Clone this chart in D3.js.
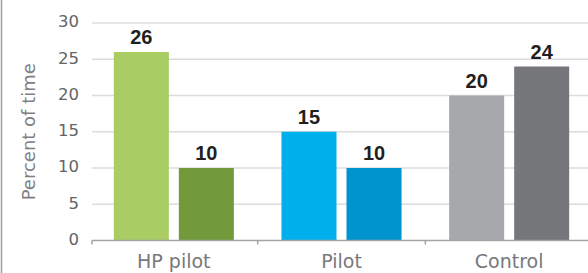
<meta charset="utf-8">
<html lang="en">
<head>
    <meta charset="utf-8">
    <style>
        body { margin: 0; background: #fff; }
        svg { display: block; }
    </style>
</head>
<body>
    <div id="my_dataviz"></div>
    <script src="https://d3js.org/d3.v7.min.js"></script>
    <script>
        // data
        var categories = ["HP pilot", "Pilot", "Control"];
        var firstBar = [26, 15, 20];
        var secondBar = [10, 10, 24];
        var yTicks = [0, 5, 10, 15, 20, 25, 30];
        var barColors = [["#a9cc63", "#739a3a"], ["#00b0ec", "#0094cf"], ["#a7a8ab", "#76777b"]];

        var width = 588, height = 273;

        var svg = d3.select("#my_dataviz")
            .append("svg")
            .attr("width", width)
            .attr("height", height);

        // scales
        var x0 = d3.scaleBand()
            .domain(categories)
            .range([90, 593])
            .paddingInner(0.284)
            .paddingOuter(0.142);

        var x1 = d3.scaleBand()
            .domain([0, 1])
            .range([0, x0.bandwidth()])
            .paddingInner(0.154);

        var y = d3.scaleLinear()
            .domain([0, 30])
            .range([240.5, 23]);

        // left border
        svg.append("line")
            .attr("x1", 1.5).attr("x2", 1.5)
            .attr("y1", 0).attr("y2", height)
            .attr("stroke", "#9c9c9c")
            .attr("stroke-width", 1.5);

        // gridlines
        svg.selectAll("myGrid")
            .data(yTicks.filter(function (d) { return d > 0 }))
            .enter()
            .append("line")
            .attr("x1", 92).attr("x2", width)
            .attr("y1", function (d) { return y(d) })
            .attr("y2", function (d) { return y(d) })
            .attr("stroke", "#dcdcdc")
            .attr("stroke-width", 1.5);

        // y tick labels
        svg.selectAll("myYLabels")
            .data(yTicks)
            .enter()
            .append("text")
            .attr("x", 79)
            .attr("y", function (d) { return y(d) - 1.5 })
            .attr("dy", "0.36em")
            .attr("text-anchor", "end")
            .style("font-family", "DejaVu Sans")
            .style("font-size", "16.5px")
            .style("fill", "#636466")
            .text(function (d) { return d });

        // axis title
        svg.append("text")
            .attr("transform", "translate(35," + y(15) + ") rotate(-90)")
            .attr("text-anchor", "middle")
            .style("font-family", "DejaVu Sans")
            .style("font-size", "18px")
            .style("fill", "#7f8083")
            .text("Percent of time");

        // bars
        var groups = svg.selectAll("myGroups")
            .data(categories)
            .enter()
            .append("g")
            .attr("transform", function (d) { return "translate(" + x0(d) + ",0)" });

        groups.selectAll("rect")
            .data(function (d, i) {
                return [{ k: 0, v: firstBar[i], c: barColors[i][0] }, { k: 1, v: secondBar[i], c: barColors[i][1] }];
            })
            .enter()
            .append("rect")
            .attr("x", function (d) { return x1(d.k) })
            .attr("width", x1.bandwidth())
            .attr("y", function (d) { return y(d.v) })
            .attr("height", function (d) { return y(0) - y(d.v) })
            .attr("fill", function (d) { return d.c });

        // value labels
        groups.selectAll("text")
            .data(function (d, i) {
                return [{ k: 0, v: firstBar[i] }, { k: 1, v: secondBar[i] }];
            })
            .enter()
            .append("text")
            .attr("x", function (d) { return x1(d.k) + x1.bandwidth() / 2 })
            .attr("y", function (d) { return y(d.v) - 8 })
            .attr("text-anchor", "middle")
            .style("font-family", "Liberation Sans, Arial, sans-serif")
            .style("font-weight", "bold")
            .style("font-size", "20px")
            .style("fill", "#231f20")
            .text(function (d) { return d.v });

        // x axis line and ticks
        svg.append("line")
            .attr("x1", 92).attr("x2", width)
            .attr("y1", y(0)).attr("y2", y(0))
            .attr("stroke", "#a3a3a6")
            .attr("stroke-width", 1.5);

        var bounds = categories.map(function (d) { return x0(d) - x0.step() * x0.paddingInner() / 2 });
        bounds[0] = 92;
        svg.selectAll("myTicks")
            .data(bounds)
            .enter()
            .append("line")
            .attr("x1", function (d) { return d }).attr("x2", function (d) { return d })
            .attr("y1", y(0)).attr("y2", y(0) + 4)
            .attr("stroke", "#a3a3a6")
            .attr("stroke-width", 1.5);

        // category labels
        svg.selectAll("myXLabels")
            .data(categories)
            .enter()
            .append("text")
            .attr("x", function (d) { return x0(d) + x0.bandwidth() / 2 })
            .attr("y", 268)
            .attr("text-anchor", "middle")
            .style("font-family", "DejaVu Sans")
            .style("font-size", "19px")
            .style("fill", "#77787b")
            .text(function (d) { return d });
    </script>
</body>
</html>
